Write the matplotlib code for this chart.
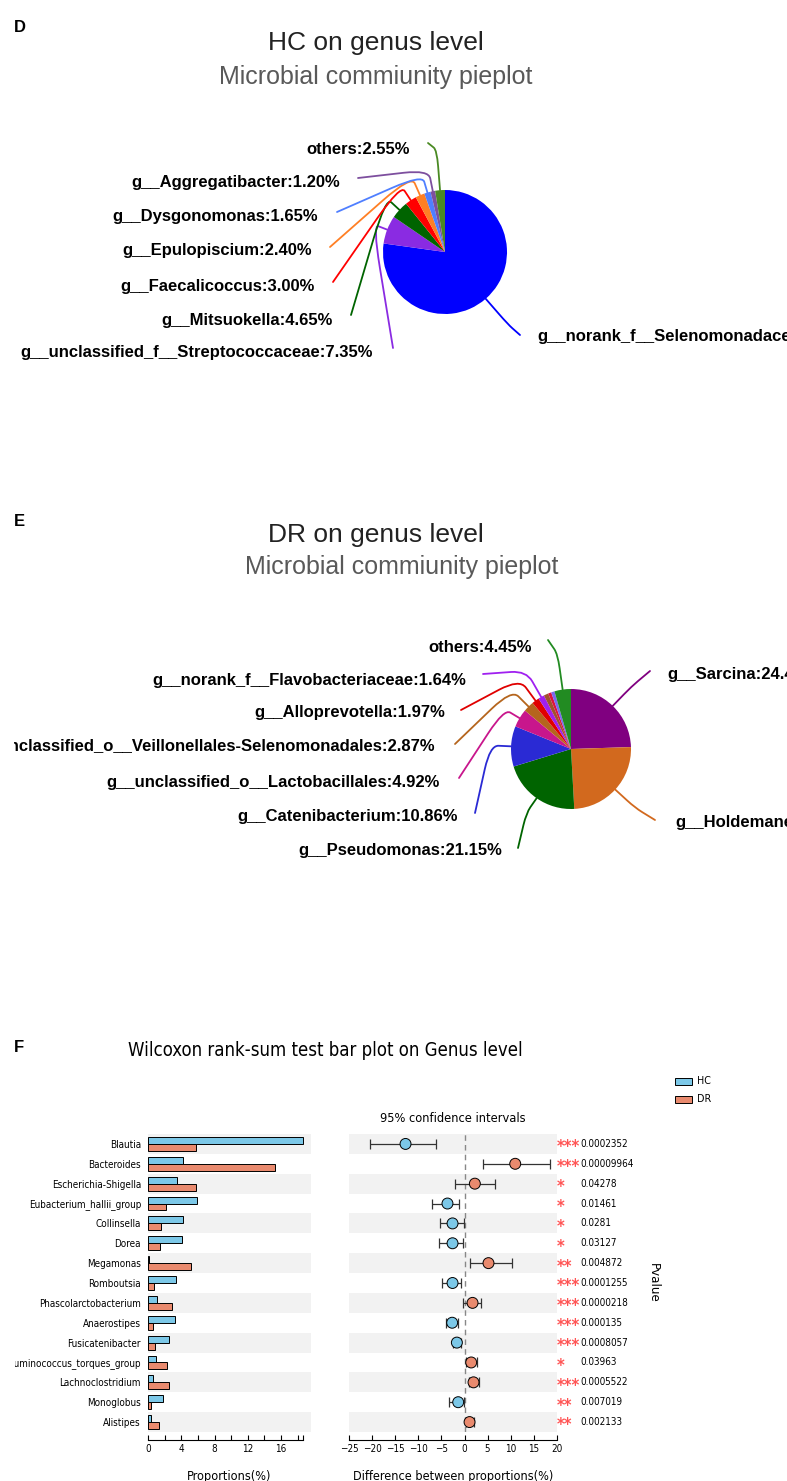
import numpy as np
import matplotlib
matplotlib.use('Agg')
import matplotlib.pyplot as plt
from matplotlib.path import Path
from matplotlib.patches import PathPatch, Rectangle
from matplotlib.transforms import Bbox, TransformedBbox, blended_transform_factory
from matplotlib import font_manager

W, H = 787, 1481

# ---- HC pie (genus level, %) ----
hc_names = ['g__norank_f__Selenomonadaceae', 'g__unclassified_f__Streptococcaceae',
            'g__Mitsuokella', 'g__Faecalicoccus', 'g__Epulopiscium', 'g__Dysgonomonas',
            'g__Aggregatibacter', 'others']
hc_pct = [77.20, 7.35, 4.65, 3.00, 2.40, 1.65, 1.20, 2.55]
hc_colors = ['#0000FF', '#8A2BE2', '#006400', '#FF0000', '#FF7F24', '#4F7FFF',
             '#7D4F9E', '#4A8A23']

# ---- DR pie (genus level, %) ----
dr_names = ['g__Sarcina', 'g__Holdemanella', 'g__Pseudomonas', 'g__Catenibacterium',
            'g__unclassified_o__Lactobacillales',
            'g__unclassified_o__Veillonellales-Selenomonadales',
            'g__Alloprevotella', 'g__norank_f__Flavobacteriaceae', '', '', '', 'others']
dr_pct = [24.49, 24.64, 21.15, 10.86, 4.92, 2.87, 1.97, 1.64, 1.25, 0.85, 0.91, 4.45]
dr_colors = ['#800080', '#D2691E', '#006400', '#2A2AD4', '#C8168C', '#B5651D',
             '#E00000', '#A020F0', '#A0522D', '#DC143C', '#7B68EE', '#228B22']

# ---- Wilcoxon rank-sum test ----
genera = ['Blautia', 'Bacteroides', 'Escherichia-Shigella', 'Eubacterium_hallii_group',
          'Collinsella', 'Dorea', 'Megamonas', 'Romboutsia', 'Phascolarctobacterium',
          'Anaerostipes', 'Fusicatenibacter', 'Ruminococcus_torques_group',
          'Lachnoclostridium', 'Monoglobus', 'Alistipes']
hc_prop = [18.60, 4.20, 3.44, 5.88, 4.20, 4.04, 0.10, 3.40, 1.12, 3.20, 2.48, 0.92, 0.60, 1.76, 0.32]
dr_prop = [5.76, 15.28, 5.72, 2.16, 1.56, 1.40, 5.20, 0.72, 2.84, 0.56, 0.80, 2.28, 2.48, 0.36, 1.32]
diff = [-12.8, 11.0, 2.24, -3.7, -2.6, -2.6, 5.2, -2.6, 1.74, -2.68, -1.66, 1.45, 1.95, -1.37, 1.09]
ci_low = [-20.5, 4.0, -2.1, -6.95, -5.35, -5.64, 1.16, -4.9, -0.29, -4.12, -2.53, 0.29, 0.94, -3.47, 0.29]
ci_high = [-6.2, 18.6, 6.7, -1.23, -0.15, -0.29, 10.35, -0.8, 3.62, -1.37, -0.72, 2.68, 3.04, -0.07, 1.95]
pvals = ['0.0002352', '0.00009964', '0.04278', '0.01461', '0.0281', '0.03127', '0.004872',
         '0.0001255', '0.0000218', '0.000135', '0.0008057', '0.03963', '0.0005522',
         '0.007019', '0.002133']

HC_COL = '#7CC8E8'
DR_COL = '#E98A6E'

cond = any(f.name == 'DejaVu Sans' and 'condensed' in str(f.stretch)
           for f in font_manager.fontManager.ttflist)
plt.rcParams['font.family'] = ['DejaVu Sans']
if cond:
    plt.rcParams['font.stretch'] = 'condensed'
fs = 1.18 if cond else 1.0

fig = plt.figure(figsize=(W / 100, H / 100), dpi=100)

# overlay axes in pixel units (y measured from the bottom)
ax0 = fig.add_axes([0, 0, 1, 1])


def Y(y):
    return H - y


PIE_FONT = dict(family='Liberation Sans', fontweight='bold', fontsize=12, fontstretch='normal')
TITLE_FONT = dict(family='Liberation Sans', fontstretch='normal')


def leader(ax, center, r, wedge, k, end, color):
    mid = np.deg2rad((wedge.theta1 + wedge.theta2) / 2)
    d = np.array([np.cos(mid), np.sin(mid)])
    c = np.array(center)
    p0 = c + r * d
    pc = c + k * r * d
    pe = np.array([end[0], Y(end[1])])
    pa = p0 + 0.6 * (pc - p0)
    pb = pc + 0.35 * (pe - pc)
    path = Path([p0, pa, pc, pb, pe],
                [Path.MOVETO, Path.LINETO, Path.CURVE3, Path.CURVE3, Path.LINETO])
    ax.add_patch(PathPatch(path, fc='none', ec=color, lw=1.3, capstyle='round'))


def draw_pie(values, names, colors, center_px, r, layout, clip_left=None):
    center = (center_px[0], Y(center_px[1]))
    wedges, _ = ax0.pie(values, colors=colors, startangle=90, counterclock=False,
                        center=center, radius=r, frame=True,
                        wedgeprops=dict(linewidth=0))
    for i, name in enumerate(names):
        if not name:
            continue
        tx, ty, ha, ex, ey, k = layout[i]
        leader(ax0, center, r, wedges[i], k, (ex, ey), colors[i])
        t = ax0.text(tx, Y(ty), f'{name}:{values[i]:.2f}%', ha=ha, va='center', **PIE_FONT)
        if clip_left is not None and i in clip_left:
            t.set_clip_box(TransformedBbox(Bbox([[clip_left[i], 0], [W, H]]), ax0.transData))
            t.set_clip_on(True)


# label x, label y, alignment, leader end x, leader end y, leader bend radius
hc_layout = [
    (537, 337, 'left', 520, 335, 1.55),
    (373, 353, 'right', 393, 348, 1.25),
    (333, 320, 'right', 351, 315, 1.30),
    (315, 286, 'right', 333, 282, 1.30),
    (312, 250, 'right', 330, 247, 1.35),
    (318, 217, 'right', 337, 212, 1.30),
    (340, 183, 'right', 358, 178, 1.35),
    (410, 150, 'right', 428, 143, 1.65),
]
dr_layout = [
    (667, 675, 'left', 650, 671, 1.45),
    (675, 823, 'left', 655, 820, 1.45),
    (502, 850, 'right', 518, 848, 1.30),
    (458, 817, 'right', 475, 813, 1.35),
    (440, 783, 'right', 459, 778, 1.30),
    (435, 747, 'right', 455, 744, 1.40),
    (445, 713, 'right', 461, 710, 1.45),
    (466, 680, 'right', 483, 674, 1.50),
    None, None, None,
    (532, 647, 'right', 548, 640, 1.60),
]

draw_pie(hc_pct, hc_names, hc_colors, (445, 252), 62, hc_layout)
draw_pie(dr_pct, dr_names, dr_colors, (571, 749), 60, dr_layout, clip_left={5: 14})

ax0.set_xlim(0, W)
ax0.set_ylim(0, H)
ax0.set_aspect('auto')
ax0.axis('off')

# panel letters and pie titles
for letter, y in [('D', 27), ('E', 522), ('F', 1048)]:
    ax0.text(14, Y(y), letter, ha='left', va='center', fontsize=12, fontweight='bold',
             **TITLE_FONT)
ax0.text(376, Y(43), 'HC on genus level', ha='center', va='center', fontsize=19,
         color='#222222', **TITLE_FONT)
ax0.text(376, Y(77), 'Microbial commiunity pieplot', ha='center', va='center',
         fontsize=18, color='#595959', **TITLE_FONT)
ax0.text(376, Y(535), 'DR on genus level', ha='center', va='center', fontsize=19,
         color='#222222', **TITLE_FONT)
ax0.text(402, Y(567), 'Microbial commiunity pieplot', ha='center', va='center',
         fontsize=18, color='#595959', **TITLE_FONT)

# ---- panel F ----
ax0.text(325, Y(1050), 'Wilcoxon rank-sum test bar plot on Genus level', ha='center',
         va='center', fontsize=11.3 * fs)

n = len(genera)
ypos = np.arange(n)
top, bottom = 1134, 1432
ax_h = (bottom - top) / H
ax_b = 1 - bottom / H

axb = fig.add_axes([148 / W, ax_b, (311 - 148) / W, ax_h])
axc = fig.add_axes([349.3 / W, ax_b, 207.4 / W, ax_h])

for ax in (axb, axc):
    for i in range(0, n, 2):
        ax.axhspan(i - 0.5, i + 0.5, color='#F2F2F2', lw=0, zorder=0)
    ax.set_ylim(n - 0.5, -0.5)
    for s in ('top', 'right', 'left'):
        ax.spines[s].set_visible(False)
    ax.spines['bottom'].set_position(('outward', 5.8))
    ax.spines['bottom'].set_linewidth(0.8)
    ax.tick_params(axis='x', which='both', direction='in', length=3.6, width=0.8,
                   pad=2.5, labelsize=6 * fs)
    ax.set_facecolor('none')

# proportions per group
axb.barh(ypos - 0.175, hc_prop, height=0.35, color=HC_COL, edgecolor='black', lw=0.7, zorder=2)
axb.barh(ypos + 0.175, dr_prop, height=0.35, color=DR_COL, edgecolor='black', lw=0.7, zorder=2)
axb.set_xlim(0, 19.6)
axb.spines['bottom'].set_bounds(0, max(hc_prop))
axb.set_xticks([0, 4, 8, 12, 16])
axb.set_xticks([2, 6, 10, 14, 18, max(hc_prop)], minor=True)
axb.set_yticks(ypos)
axb.set_yticklabels(genera, fontsize=6 * fs)
axb.tick_params(axis='y', length=0, pad=5)
clip = TransformedBbox(Bbox([[15 / W, 0], [1, 1]]), fig.transFigure)
for lab in axb.get_yticklabels():
    lab.set_clip_box(clip)
    lab.set_clip_on(True)
axb.set_xlabel('Proportions(%)', fontsize=7.7 * fs, labelpad=12)

# difference with 95% CI
diff_a = np.array(diff)
err = [diff_a - np.array(ci_low), np.array(ci_high) - diff_a]
axc.axvline(0, color='#888888', lw=1, ls=(0, (4, 3)), zorder=1)
axc.errorbar(diff_a, ypos, xerr=err, fmt='none', ecolor='#333333', elinewidth=0.9,
             capsize=3.5, capthick=0.9, zorder=2)
pt_cols = [HC_COL if v < 0 else DR_COL for v in diff_a]
axc.scatter(diff_a, ypos, s=62, c=pt_cols, edgecolors='black', linewidths=0.7, zorder=3)
axc.set_xlim(-25, 20)
axc.spines['bottom'].set_bounds(-25, 20)
axc.set_xticks(np.arange(-25, 21, 5))
axc.set_yticks([])
axc.set_xlabel('Difference between proportions(%)', fontsize=7.7 * fs, labelpad=12)
axc.set_title('95% confidence intervals', fontsize=7.8 * fs, pad=9)

tr = blended_transform_factory(axc.transAxes, axc.transData)
for i, p in enumerate(pvals):
    pv = float(p)
    stars = '***' if pv < 0.001 else ('**' if pv < 0.01 else '*')
    axc.text(1.0015, i + 0.17, stars, transform=tr, ha='left', va='center',
             color='#FF5555', fontsize=12, fontweight='bold', clip_on=False)
    axc.text(1.112, i, p, transform=tr, ha='left', va='center', fontsize=6 * fs,
             clip_on=False)

ax0.text(653, Y(1283), 'Pvalue', rotation=-90, ha='center', va='center', fontsize=8 * fs)

# legend
for lab, col, y in [('HC', HC_COL, 1081), ('DR', DR_COL, 1099)]:
    ax0.add_patch(Rectangle((675, Y(y) - 3.5), 17, 7, fc=col, ec='black', lw=0.7))
    ax0.text(697, Y(y), lab, ha='left', va='center', fontsize=6.5 * fs)

fig.savefig('out.png', dpi=100)
